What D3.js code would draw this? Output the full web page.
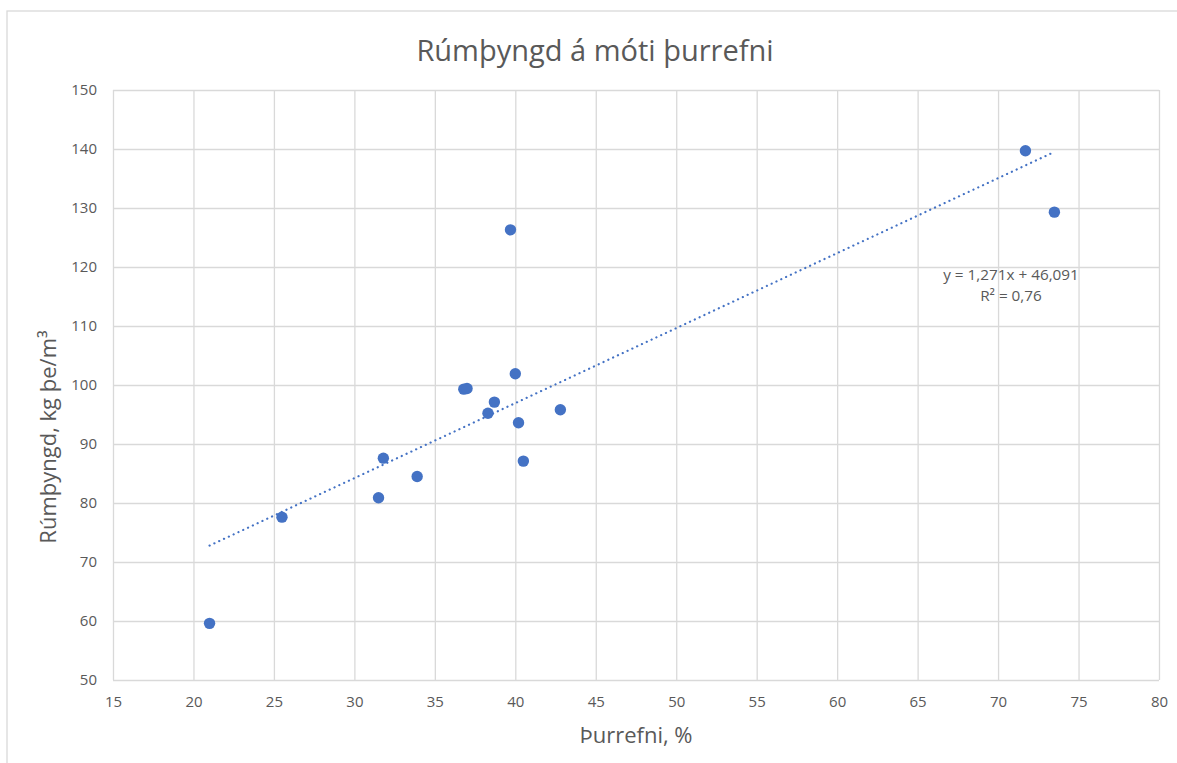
<html>
  <head>
    <meta charset="utf-8">
    <script type="text/javascript" src="https://cdn.jsdelivr.net/npm/d3@7"></script>
    <style>
      body { margin: 0; background: #fff; }
      text { font-family: "Open Sans", sans-serif; fill: #595959; }
    </style>
  </head>
  <body>
    <div id="chart"></div>
    <script type="text/javascript">
      // data
      var thurrefni = [21.0, 25.5, 31.5, 31.8, 33.9, 36.8, 37.0, 38.7, 38.3, 40.0, 40.2, 40.5, 42.8, 39.7, 71.7, 73.5];
      var rumthyngd = [59.6, 77.6, 80.9, 87.6, 84.5, 99.3, 99.4, 97.1, 95.2, 101.9, 93.6, 87.1, 95.8, 126.3, 139.7, 129.3];
      var xTicks = [15, 20, 25, 30, 35, 40, 45, 50, 55, 60, 65, 70, 75, 80];
      var yTicks = [50, 60, 70, 80, 90, 100, 110, 120, 130, 140, 150];
      var trendSlope = 1.271, trendIntercept = 46.091;
      var trendLabel = ["y = 1,271x + 46,091", "R² = 0,76"];

      var W = 1177, H = 763;
      var PL = 113, PR = 1159, PT = 90, PB = 680;
      var GRID = "#d9d9d9", BLUE = "#4472c4";

      var svg = d3.select("#chart").append("svg").attr("width", W).attr("height", H);

      // chart frame
      svg.append("rect").attr("x", 7).attr("y", 11).attr("width", W).attr("height", H)
        .attr("fill", "none").attr("stroke", GRID).attr("stroke-width", 1.3);

      var x = d3.scaleLinear().domain([15, 80]).range([PL, PR]);
      var y = d3.scaleLinear().domain([50, 150]).range([PB, PT]);

      // gridlines via axes
      svg.append("g").attr("transform", "translate(0," + PB + ")")
        .call(d3.axisBottom(x).tickValues(xTicks).tickSize(-(PB - PT)).tickFormat(""))
        .call(function(g) { g.select(".domain").remove(); g.selectAll("line").attr("stroke", GRID).attr("stroke-width", 1.3); });
      svg.append("g").attr("transform", "translate(" + PL + ",0)")
        .call(d3.axisLeft(y).tickValues(yTicks).tickSize(-(PR - PL)).tickFormat(""))
        .call(function(g) { g.select(".domain").remove(); g.selectAll("line").attr("stroke", GRID).attr("stroke-width", 1.3); });

      // tick labels
      svg.append("g").attr("transform", "translate(0," + PB + ")")
        .call(d3.axisBottom(x).tickValues(xTicks).tickSize(0).tickPadding(16))
        .call(function(g) { g.select(".domain").remove(); g.selectAll("text").style("font-size", "15px").attr("fill", "#595959"); });
      svg.append("g").attr("transform", "translate(" + PL + ",0)")
        .call(d3.axisLeft(y).tickValues(yTicks).tickSize(0).tickPadding(16))
        .call(function(g) { g.select(".domain").remove(); g.selectAll("text").style("font-size", "15px").attr("fill", "#595959"); });

      // trendline
      var xr = d3.extent(thurrefni);
      svg.append("line")
        .attr("x1", x(xr[0])).attr("y1", y(trendSlope * xr[0] + trendIntercept))
        .attr("x2", x(xr[1])).attr("y2", y(trendSlope * xr[1] + trendIntercept))
        .attr("stroke", BLUE).attr("stroke-width", 2.2)
        .attr("stroke-dasharray", "0.1 5.2").attr("stroke-linecap", "round");

      // points
      svg.append("g").selectAll("circle").data(thurrefni).enter().append("circle")
        .attr("cx", function(d) { return x(d); })
        .attr("cy", function(d, i) { return y(rumthyngd[i]); })
        .attr("r", 5.7)
        .attr("fill", BLUE);

      // trend equation
      svg.append("g").selectAll("text").data(trendLabel).enter().append("text")
        .attr("x", 1011).attr("y", function(d, i) { return 280 + i * 20.5; })
        .attr("text-anchor", "middle").style("font-size", "15.3px")
        .text(function(d) { return d; });

      // title and axis titles
      svg.append("text").attr("x", 595).attr("y", 61).attr("text-anchor", "middle")
        .style("font-size", "29px").text("Rúmþyngd á móti þurrefni");
      svg.append("text").attr("x", 636).attr("y", 743).attr("text-anchor", "middle")
        .style("font-size", "22px").text("Þurrefni, %");
      svg.append("text").attr("transform", "translate(56,437) rotate(-90)").attr("text-anchor", "middle")
        .style("font-size", "22px").text("Rúmþyngd, kg þe/m³");
    </script>
  </body>
</html>
